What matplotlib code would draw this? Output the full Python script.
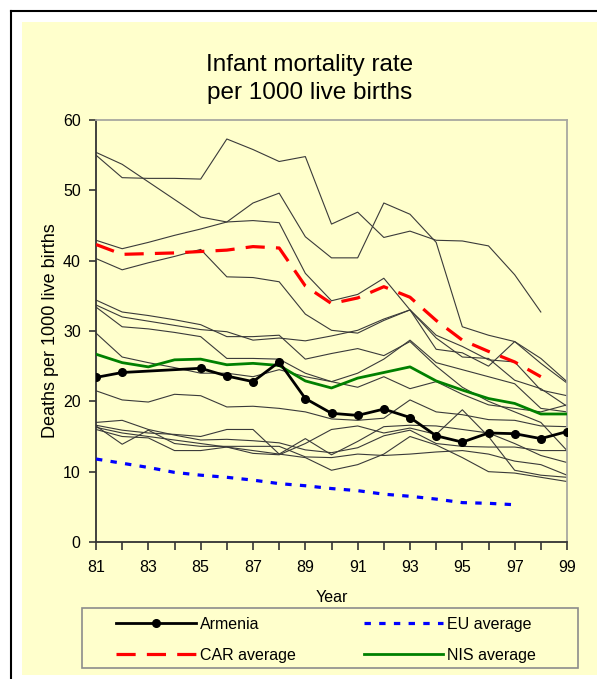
import matplotlib.pyplot as plt
import numpy as np
from matplotlib.lines import Line2D
from matplotlib.patches import Rectangle

plt.rcParams['font.family'] = ['Liberation Sans', 'DejaVu Sans']

years = list(range(81, 100))

# country series (thin grey lines), None = no data
countries = [
    [55.4, 53.7, 51.2, 48.7, 46.2, 45.5, 45.7, 45.4, 38.2, 34.3, 35.2, 37.5, 33.0, 29.4, 27.8, 25.9, 25.6, 21.6, 20.8],
    [55.0, 51.8, 51.7, 51.7, 51.6, 57.3, 55.8, 54.1, 54.8, 45.2, 46.9, 43.3, 44.2, 42.9, 42.8, 42.1, 38.0, 32.7, None],
    [42.9, 41.7, 42.6, 43.6, 44.5, 45.5, 48.2, 49.6, 43.4, 40.4, 40.4, 48.2, 46.6, 42.6, 30.6, 29.4, 28.5, 26.1, 22.8],
    [40.3, 38.7, 39.7, 40.6, 41.6, 37.7, 37.6, 37.0, 32.4, 30.1, 29.7, 31.5, 33.0, 29.0, 26.3, 26.1, 23.0, 21.8, 19.3],
    [34.4, 32.7, 32.2, 31.6, 30.9, 29.2, 29.2, 29.4, 26.0, 26.8, 27.5, 26.5, 28.5, 25.0, 22.0, 20.0, 18.5, 17.0, 13.0],
    [33.7, 32.0, 31.4, 30.8, 30.2, 29.9, 28.7, 29.0, 28.6, 29.3, 30.1, 31.7, 33.0, 27.4, 26.9, 25.0, 28.5, 25.4, 22.6],
    [33.4, 30.6, 30.3, 29.8, 29.2, 26.1, 26.1, 26.0, 24.0, 22.8, 24.0, 26.0, 28.7, 25.5, 24.5, 23.5, 22.5, 19.0, 18.5],
    [29.7, 26.3, 25.5, 24.8, 24.0, 24.0, 23.5, 24.5, 23.5, 22.8, 22.0, 23.5, 21.8, 22.8, 21.0, 19.5, 19.0, 18.5, 19.5],
    [21.5, 20.2, 19.9, 21.0, 20.8, 19.2, 19.3, 19.0, 18.5, 17.5, 17.3, 17.6, 20.2, 18.5, 18.1, 17.4, 17.3, 16.5, 16.4],
    [17.0, 17.3, 16.0, 15.2, 14.5, 14.6, 14.4, 14.1, 13.1, 12.7, 13.4, 15.1, 15.9, 14.0, 13.6, 13.5, 13.5, 13.0, 13.0],
    [16.6, 15.9, 15.5, 15.3, 15.0, 16.0, 16.0, 12.5, 14.7, 12.4, 14.3, 16.4, 16.6, 16.5, 16.0, 15.5, 14.0, 12.3, 11.3],
    [16.5, 13.9, 15.9, 14.0, 13.6, 13.6, 13.6, 13.6, 12.1, 12.0, 12.5, 12.3, 12.5, 12.8, 13.0, 12.5, 11.5, 11.0, 9.5],
    [16.3, 15.5, 15.0, 14.5, 14.0, 13.5, 13.0, 12.5, 12.0, 10.2, 11.0, 12.5, 15.0, 13.8, 12.0, 10.0, 9.8, 9.2, 8.6],
    [16.0, 15.0, 14.8, 13.0, 13.0, 13.5, 12.6, 12.4, 14.0, 16.0, 16.5, 15.5, 16.2, 15.3, 18.8, 15.0, 10.2, 9.5, 9.2],
]

armenia = [23.4, 24.1, None, None, 24.7, 23.6, 22.8, 25.6, 20.4, 18.3, 18.0, 18.9, 17.7, 15.1, 14.2, 15.5, 15.4, 14.7, 15.7]
car_avg = [42.3, 40.9, 41.0, 41.1, 41.3, 41.5, 42.0, 41.8, 36.4, 33.9, 34.7, 36.3, 34.8, 31.5, 28.7, 27.1, 25.6, 23.5, None]
nis_avg = [26.7, 25.5, 24.9, 25.9, 26.0, 25.2, 25.4, 25.1, 22.9, 21.9, 23.3, 24.1, 24.9, 22.9, 21.6, 20.4, 19.7, 18.2, 18.2]
eu_avg = [11.8, 11.2, 10.6, 9.9, 9.5, 9.2, 8.8, 8.3, 8.0, 7.6, 7.3, 6.8, 6.5, 6.1, 5.6, 5.5, 5.3, None, None]

bg = '#ffffcc'


def valid(vals):
    pts = [(x, v) for x, v in zip(years, vals) if v is not None]
    return [p[0] for p in pts], [p[1] for p in pts]


fig = plt.figure(figsize=(5.97, 6.79), dpi=100)
fig.patch.set_facecolor('white')

# yellow chart area and black outer frame
fig.patches.append(Rectangle((22 / 597, 4 / 679), 575 / 597, 653 / 679,
                             transform=fig.transFigure, facecolor=bg, edgecolor='none', zorder=-1))
fig.lines.append(Line2D([11 / 597, 11 / 597], [0, 1 - 11 / 679], transform=fig.transFigure, color='black', lw=1.5))
fig.lines.append(Line2D([11 / 597, 1], [1 - 11 / 679, 1 - 11 / 679], transform=fig.transFigure, color='black', lw=1.5))

ax = fig.add_axes([96 / 597, 137 / 679, 471 / 597, 422 / 679])
ax.set_facecolor(bg)

for c in countries:
    xs, ys = valid(c)
    ax.plot(xs, ys, color='#3a3a3a', lw=0.8, zorder=2)

xs, ys = valid(car_avg)
l_car, = ax.plot(xs, ys, color='red', lw=2.3, linestyle=(0, (6, 3.5)), zorder=3)
xs, ys = valid(eu_avg)
l_eu, = ax.plot(xs, ys, color='blue', lw=2.3, linestyle=(0, (2, 2.6)), zorder=3)
xs, ys = valid(nis_avg)
l_nis, = ax.plot(xs, ys, color='green', lw=2.0, zorder=3)
xs, ys = valid(armenia)
l_arm, = ax.plot(xs, ys, color='black', lw=2.0, marker='o', markersize=5.5, zorder=4)

ax.set_xlim(81, 99)
ax.set_ylim(0, 60)
ax.set_xticks(years)
ax.set_xticklabels([str(y) if y % 2 == 1 else '' for y in years])
ax.set_yticks(np.arange(0, 61, 10))

for s in ['top', 'right']:
    ax.spines[s].set_color('#a8a8a0')
    ax.spines[s].set_linewidth(1.3)
for s in ['left', 'bottom']:
    ax.spines[s].set_color('#333333')
    ax.spines[s].set_linewidth(1.3)

ax.tick_params(axis='both', direction='out', color='#333333', width=1.2, labelsize=11.5)
ax.tick_params(axis='x', length=6, pad=7)
ax.tick_params(axis='y', length=5, pad=6)

ax.set_xlabel('Year', fontsize=11.5, labelpad=11)
ax.set_ylabel('Deaths per 1000 live births', fontsize=13, labelpad=3)

fig.text(310 / 597, 1 - 79 / 679, 'Infant mortality rate\nper 1000 live births',
         ha='center', va='center', fontsize=17.5, linespacing=1.4)

# legend box
fig.patches.append(Rectangle((82 / 597, 1 - 668 / 679), 496 / 597, 60 / 679,
                             transform=fig.transFigure, facecolor='none', edgecolor='#8c8c8c', lw=1.2, zorder=5))
fig.legend([l_arm, l_car, l_eu, l_nis], ['Armenia', 'CAR average', 'EU average', 'NIS average'],
           ncol=2, frameon=False, loc='upper left', bbox_to_anchor=(116 / 597, 1 - 617 / 679),
           borderpad=0, borderaxespad=0, handlelength=5.0, handletextpad=0.25,
           columnspacing=4.25, labelspacing=1.0, fontsize=11.5)

fig.savefig('out.png', dpi=100, facecolor='white')
